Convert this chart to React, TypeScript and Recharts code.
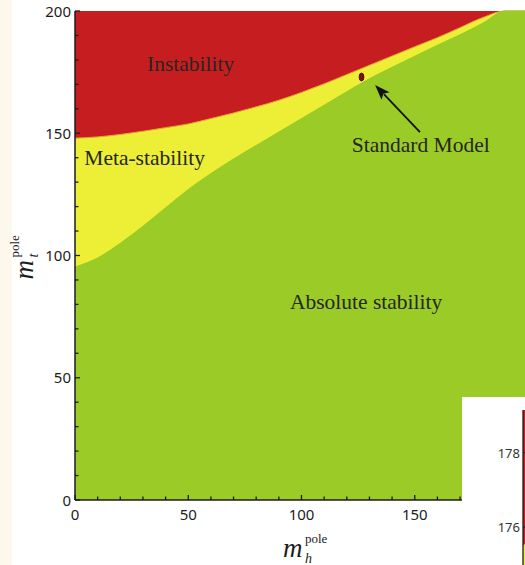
import React from 'react';
import {
  ComposedChart,
  AreaChart,
  Area,
  XAxis,
  YAxis,
  CartesianGrid,
  ReferenceDot,
  ReferenceLine,
} from 'recharts';

// Higgs pole mass grid (GeV) and the two phase boundaries in top pole mass (GeV)
const higgsMass = [0, 10, 20, 30, 40, 50, 60, 70, 80, 90, 100, 110, 120, 130, 140, 150, 160, 170, 180, 190, 200];
const instabilityEdge = [148, 148.5, 149.5, 150.8, 152.3, 153.8, 156, 158.3, 160.8, 163.5, 166.7, 170.2, 174, 177.8, 181.6, 185.4, 189.1, 193.2, 197.3, 200, 200];
const stabilityEdge = [95.3, 99, 105, 112, 119.5, 127, 133.5, 139.5, 145, 150.5, 156, 161.5, 167, 172.3, 177, 181.5, 186, 190.3, 195, 200, 200];

const axisTicks = [0, 10, 20, 30, 40, 50, 60, 70, 80, 90, 100, 110, 120, 130, 140, 150, 160, 170, 180, 190, 200];
const labelledTicks = [0, 50, 100, 150, 200];

const standardModel = { mh: 126.5, mt: 173 };
const arrowTail = { mh: 152.3, mt: 150.5 };
const arrowHead = { mh: 132.5, mt: 169.7 };

const regionNames = ['Instability', 'Meta-stability', 'Standard Model', 'Absolute stability'];
const regionNameMh = [31.8, 4.1, 122.2, 94.9];
const regionNameMt = [175.6, 137, 142.5, 78.1];

// zoomed inset, bottom right corner
const insetHiggs = [124, 126, 128];
const insetEdge = [175.5, 176.1, 176.8];
const insetTicks = [176, 178];

const RED = '#c61e20';
const YELLOW = '#edef37';
const GREEN = '#9acb27';
const INK = '#1c1c1c';
const TICK_FONT = '"Noto Sans", sans-serif';
const SERIF = '"Liberation Serif", serif';

const rows = higgsMass.map((mh, i) => ({
  mh,
  unstable: instabilityEdge[i],
  stable: stabilityEdge[i],
}));

const insetRows = insetHiggs.map((mh, i) => ({ mh, edge: insetEdge[i] }));

function BottomTick(props: any) {
  const { x, y, payload } = props;
  const major = labelledTicks.includes(payload.value);
  return (
    <g>
      <line x1={x} y1={y} x2={x} y2={y - (major ? 5 : 3.5)} stroke={INK} strokeWidth={1.3} />
      {major && payload.value < 200 && (
        <text x={x} y={y + 20} textAnchor="middle" fontFamily={TICK_FONT} fontSize={15} fill={INK}>
          {payload.value}
        </text>
      )}
    </g>
  );
}

function TopTick(props: any) {
  const { x, y, payload } = props;
  const major = labelledTicks.includes(payload.value);
  return <line x1={x} y1={y} x2={x} y2={y + (major ? 5 : 3.5)} stroke={INK} strokeWidth={1.3} />;
}

function LeftTick(props: any) {
  const { x, y, payload } = props;
  const major = labelledTicks.includes(payload.value);
  return (
    <g>
      <line x1={x} y1={y} x2={x + (major ? 5 : 3.5)} y2={y} stroke={INK} strokeWidth={1.3} />
      {major && (
        <text x={x - 4} y={y + 5.5} textAnchor="end" fontFamily={TICK_FONT} fontSize={15} fill={INK}>
          {payload.value}
        </text>
      )}
    </g>
  );
}

function InsetTick(props: any) {
  const { x, y, payload } = props;
  return (
    <g>
      <line x1={x} y1={y} x2={x + 4} y2={y} stroke={INK} strokeWidth={1.2} />
      <text x={x - 3} y={y + 5} textAnchor="end" fontFamily={TICK_FONT} fontSize={13} fill="#333">
        {payload.value}
      </text>
    </g>
  );
}

function XTitle(props: any) {
  const { viewBox } = props;
  const x0 = viewBox.x + 208;
  const base = viewBox.y + 57;
  return (
    <g fill={INK} fontFamily={SERIF}>
      <text x={x0} y={base} fontSize={27} fontStyle="italic">m</text>
      <text x={x0 + 22} y={base - 14} fontSize={13}>pole</text>
      <text x={x0 + 22} y={base + 6} fontSize={14} fontStyle="italic">h</text>
    </g>
  );
}

function YTitle(props: any) {
  const { viewBox } = props;
  const cx = viewBox.x - 2;
  const cy = viewBox.y + viewBox.height / 2 + 24;
  return (
    <g fill={INK} fontFamily={SERIF} transform={`translate(${cx}, ${cy}) rotate(-90)`}>
      <text x={0} y={0} fontSize={27} fontStyle="italic">m</text>
      <text x={22} y={-14} fontSize={13}>pole</text>
      <text x={22} y={5} fontSize={14} fontStyle="italic">t</text>
    </g>
  );
}

function Arrow(props: any) {
  const { x1, y1, x2, y2 } = props;
  const dx = x2 - x1;
  const dy = y2 - y1;
  const len = Math.sqrt(dx * dx + dy * dy);
  const ux = dx / len;
  const uy = dy / len;
  const headLen = 15;
  const headW = 5.5;
  const bx = x2 - ux * headLen;
  const by = y2 - uy * headLen;
  return (
    <g>
      <line x1={x1} y1={y1} x2={bx + ux * 2} y2={by + uy * 2} stroke="#111" strokeWidth={1.8} />
      <polygon
        points={`${x2},${y2} ${bx - uy * headW},${by + ux * headW} ${bx + ux * 3},${by + uy * 3} ${bx + uy * headW},${by - ux * headW}`}
        fill="#111"
      />
    </g>
  );
}

export default function App() {
  return (
    <div
      style={{
        position: 'fixed',
        left: 0,
        top: 0,
        width: 525,
        height: 565,
        overflow: 'hidden',
        background: '#ffffff',
      }}
    >
      <div style={{ position: 'absolute', left: 0, top: 0, width: 12, height: 565, background: '#fdf8ec' }} />
      <div style={{ position: 'absolute', left: 0, top: 0 }}>
        <ComposedChart width={528} height={565} data={rows} margin={{ top: 11, right: 0, left: 35, bottom: 0 }}>
          <CartesianGrid horizontal={false} vertical={false} fill={RED} fillOpacity={1} />
          <XAxis
            dataKey="mh"
            type="number"
            domain={[0, 200]}
            ticks={axisTicks}
            interval={0}
            height={65}
            tickSize={0}
            tickMargin={0}
            tickLine={false}
            axisLine={{ stroke: INK, strokeWidth: 1.5 }}
            tick={BottomTick}
            label={{ content: XTitle }}
          />
          <XAxis
            xAxisId="top"
            orientation="top"
            dataKey="mh"
            type="number"
            domain={[0, 200]}
            ticks={axisTicks}
            interval={0}
            height={0}
            tickSize={0}
            tickMargin={0}
            tickLine={false}
            axisLine={{ stroke: INK, strokeWidth: 1.5 }}
            tick={TopTick}
          />
          <YAxis
            type="number"
            domain={[0, 200]}
            ticks={axisTicks}
            interval={0}
            width={40}
            tickSize={0}
            tickMargin={0}
            tickLine={false}
            axisLine={{ stroke: INK, strokeWidth: 1.5 }}
            tick={LeftTick}
            label={{ content: YTitle }}
          />
          <Area
            type="monotone"
            dataKey="unstable"
            baseValue={0}
            stroke="#e8a13a"
            strokeWidth={1}
            fill={YELLOW}
            fillOpacity={1}
            isAnimationActive={false}
            dot={false}
            activeDot={false}
          />
          <Area
            type="monotone"
            dataKey="stable"
            baseValue={0}
            stroke={GREEN}
            strokeWidth={1}
            fill={GREEN}
            fillOpacity={1}
            isAnimationActive={false}
            dot={false}
            activeDot={false}
          />
          {regionNames.map((name, i) => (
            <ReferenceDot
              key={name}
              x={regionNameMh[i]}
              y={regionNameMt[i]}
              r={0}
              shape={(p: any) => (
                <text x={p.cx} y={p.cy} fontFamily={SERIF} fontSize={21.5} fill="#262620">
                  {name}
                </text>
              )}
            />
          ))}
          <ReferenceLine
            segment={[
              { x: arrowTail.mh, y: arrowTail.mt },
              { x: arrowHead.mh, y: arrowHead.mt },
            ]}
            shape={Arrow}
          />
          <ReferenceDot
            x={standardModel.mh}
            y={standardModel.mt}
            r={4}
            shape={(p: any) => (
              <ellipse cx={p.cx} cy={p.cy} rx={2.4} ry={4} fill="#7d0f0f" stroke="#3b0606" strokeWidth={0.8} />
            )}
          />
        </ComposedChart>
      </div>
      <div
        style={{
          position: 'absolute',
          left: 462,
          top: 397,
          width: 63,
          height: 168,
          overflow: 'hidden',
          background: '#ffffff',
        }}
      >
        <AreaChart width={140} height={210} data={insetRows} margin={{ top: 13, right: 0, left: 0, bottom: 0 }}>
          <CartesianGrid horizontal={false} vertical={false} fill={RED} fillOpacity={1} />
          <XAxis dataKey="mh" type="number" domain={[124, 130]} hide />
          <YAxis
            type="number"
            domain={[173.85, 179.15]}
            ticks={insetTicks}
            interval={0}
            width={61}
            tickSize={0}
            tickMargin={0}
            tickLine={false}
            axisLine={{ stroke: INK, strokeWidth: 1.3 }}
            tick={InsetTick}
          />
          <Area
            type="monotone"
            dataKey="edge"
            baseValue={173.85}
            stroke="#e8a13a"
            fill={YELLOW}
            fillOpacity={1}
            isAnimationActive={false}
            dot={false}
            activeDot={false}
          />
        </AreaChart>
      </div>
    </div>
  );
}
